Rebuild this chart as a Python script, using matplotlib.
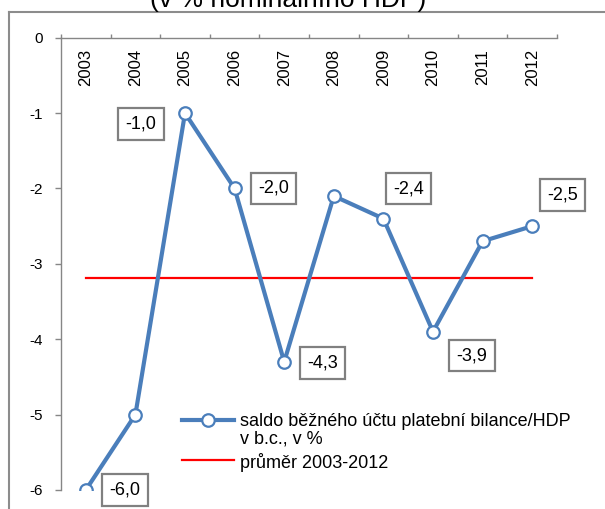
import numpy as np
import matplotlib
matplotlib.use("Agg")
import matplotlib.pyplot as plt
from matplotlib.lines import Line2D

plt.rcParams['font.family'] = ['Liberation Sans', 'DejaVu Sans']

years = ['2003', '2004', '2005', '2006', '2007', '2008', '2009', '2010', '2011', '2012']
values = [-6.0, -5.0, -1.0, -2.0, -4.3, -2.1, -2.4, -3.9, -2.7, -2.5]
labeled_years = ['2003', '2005', '2006', '2007', '2009', '2010', '2012']
yticks = [0, -1, -2, -3, -4, -5, -6]
series_label = "saldo běžného účtu platební bilance/HDP\nv b.c., v %"
avg_label = "průměr 2003-2012"
title = "(v % nominálního HDP)"

avg = float(np.mean(values))

W, H = 605, 509
fig = plt.figure(figsize=(W / 100, H / 100), dpi=100)
ax = fig.add_axes([61 / W, 1 - 490 / H, (557 - 61) / W, (490 - 37.7) / H])

x = np.arange(len(years))
blue = '#4A7EBB'
gray = '#868686'

line, = ax.plot(x, values, color=blue, lw=3, marker='o', ms=9,
                mfc='white', mec=blue, mew=1.6, zorder=3,
                label=series_label)
avgline, = ax.plot([x[0], x[-1]], [avg, avg], color='#FF0000', lw=1.6,
                   zorder=2, label=avg_label)

ax.set_xlim(-0.5, len(years) - 0.5)
ax.set_ylim(-6, 0)

for s in ['right', 'bottom']:
    ax.spines[s].set_visible(False)
for s in ['top', 'left']:
    ax.spines[s].set_color(gray)
    ax.spines[s].set_linewidth(1.0)

ax.xaxis.tick_top()
ax.set_xticks(np.arange(-0.5, len(years), 1.0))
ax.set_xticklabels([])
ax.tick_params(axis='x', direction='out', length=3, color=gray, width=1)
ax.set_yticks(yticks)
ax.set_yticklabels([str(t) for t in yticks])
ax.tick_params(axis='y', direction='out', length=4.3, color=gray, width=1,
               labelsize=11, pad=9, labelcolor='black')

for i, yr in enumerate(years):
    ax.annotate(yr, (i, 0), xytext=(0, -8), textcoords='offset points',
                rotation=90, ha='center', va='top', fontsize=12)

# data label offsets in pixels (dx right, dy up)
offsets = {'2003': (39, 0), '2005': (-44, -11), '2006': (39, 0),
           '2007': (38, -1), '2009': (25, 30), '2010': (39, -24),
           '2012': (30, 31)}
for i, yr in enumerate(years):
    if yr in labeled_years:
        dx, dy = offsets[yr]
        ax.annotate(f"{values[i]:.1f}".replace('.', ','), (i, values[i]),
                    xytext=(dx * 0.72, dy * 0.72), textcoords='offset points',
                    ha='center', va='center', fontsize=13,
                    bbox=dict(boxstyle='square,pad=0.4', fc='white',
                              ec='#808080', lw=1.6), zorder=5)

leg = ax.legend(handles=[line, avgline], loc='upper left',
                bbox_to_anchor=(182 / W, 1 - 413 / H),
                bbox_transform=fig.transFigure, frameon=False,
                fontsize=13, handlelength=2.9, handletextpad=0.3,
                handleheight=1.0, labelspacing=0.35, borderpad=0,
                borderaxespad=0)
for t in leg.get_texts():
    t.set_linespacing(1.0)
for col in leg._legend_handle_box.get_children():
    for row in col.get_children():
        row.align = 'top'

# outer chart frame
fig.add_artist(Line2D([9 / W, 9 / W], [0, 1 - 12 / H], transform=fig.transFigure,
                      color='#8C8C8C', lw=1.5))
fig.add_artist(Line2D([9 / W, 1], [1 - 12 / H, 1 - 12 / H], transform=fig.transFigure,
                      color='#8C8C8C', lw=1.5))

fig.text(288 / W, 1 - 7 / H, title, ha='center', va='baseline', fontsize=19)

fig.savefig('out.png', dpi=100)
